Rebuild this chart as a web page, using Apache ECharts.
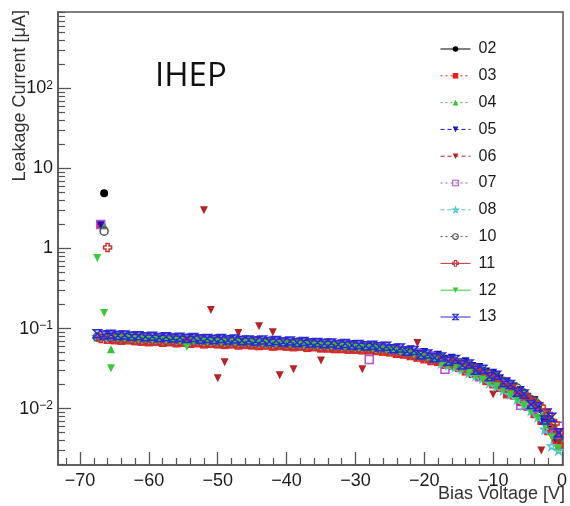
<!DOCTYPE html>
<html><head><meta charset="utf-8">
<script src="https://cdn.jsdelivr.net/npm/echarts@6/dist/echarts.min.js"></script>
<style>html,body{margin:0;padding:0;background:#fff}#c{width:570px;height:506px}</style>
</head><body><div id="c"></div>
<script>
// ---------------- data ----------------
const seriesNames = ['02','03','04','05','06','07','08','10','11','12','13'];

// voltage grids (V)
const voltsA = [-67,-66,-65,-64,-63,-62,-61,-60,-59,-58,
  -57,-56,-55,-54,-53,-52,-51,-50,-49,-48,
  -47,-46,-45,-44,-43,-42,-41,-40,-39,-38,
  -37,-36,-35,-34,-33,-32,-31,-30,-29,-28,
  -27,-26,-25,-24,-23,-22,-21,-20,-19,-18,
  -17,-16,-15,-14,-13,-12,-11,-10,-9,-8,
  -7,-6,-5,-4,-3,-2,-1,-0.4];
const voltsB = [-67.5,-66.5,-65.5,-64.5,-63.5,-62.5,-61.5,-60.5,-59.5,-58.5,
  -57.5,-56.5,-55.5,-54.5,-53.5,-52.5,-51.5,-50.5,-49.5,-48.5,
  -47.5,-46.5,-45.5,-44.5,-43.5,-42.5,-41.5,-40.5,-39.5,-38.5,
  -37.5,-36.5,-35.5,-34.5,-33.5,-32.5,-31.5,-30.5,-29.5,-28.5,
  -27.5,-26.5,-25.5,-24.5,-23.5,-22.5,-21.5,-20.5,-19.5,-18.5,
  -17.5,-16.5,-15.5,-14.5,-13.5,-12.5,-11.5,-10.5,-9.5,-8.5,
  -7.5,-6.5,-5.5,-4.5,-3.5,-2.5,-1.5,-0.5];

// leakage currents (uA)
const i02 = [null,4.9,.078,.077,.077,.076,.075,.075,.074,.073,
  .073,.072,.072,.071,.071,.070,.070,.070,.069,.069,
  .068,.068,.067,.067,.067,.066,.066,.065,.065,.065,
  .064,.064,.063,.062,.062,.061,.061,.060,.059,.059,
  .058,.057,.056,.055,.053,.051,.049,.047,.045,.043,
  .041,.039,.037,.035,.032,.030,.027,.025,.023,.020,
  .018,.0158,.0138,.0118,.0098,.0078,.0058,.0043];
const i03 = [2.0,.072,.071,.070,.071,.069,.068,.067,.068,.066,
  .067,.065,.066,.064,.065,.063,.064,.063,.062,.063,
  .061,.062,.061,.060,.061,.059,.060,.059,.058,.059,
  .057,.058,.056,.056,.055,.055,.054,.054,.053,.053,
  .052,.051,.050,.048,.047,.045,.043,.041,.039,.038,
  .035,.034,.032,.029,.027,.025,.022,.020,.018,.015,
  .0145,.0120,.0105,.0085,.0070,.0052,.0040,.0034];
const i04 = [.080,1.95,.055,.078,.076,.077,.075,.074,.075,.073,
  .074,.072,.071,.072,.070,.071,.069,.070,.068,.069,
  .068,.067,.068,.066,.067,.065,.066,.065,.064,.065,
  .063,.064,.062,.063,.061,.062,.060,.061,.059,.058,
  .059,.056,.057,.054,.054,.050,.050,.046,.046,.042,
  .046,.041,.042,.036,.037,.031,.032,.027,.027,.022,
  .021,.0175,.0165,.0135,.0125,.0092,.0078,.0045];
const i05 = [1.95,.085,.082,.084,.081,.082,.079,.080,.078,.079,
  .077,.078,.076,.077,.075,.076,.074,.075,.073,.074,
  .072,.073,.071,.072,.070,.071,.069,.070,.068,.069,
  .067,.068,.066,.067,.064,.065,.063,.064,.061,.062,
  .060,.061,.057,.058,.054,.055,.050,.051,.046,.047,
  .042,.043,.038,.039,.034,.033,.029,.028,.024,.022,
  .019,.0170,.0140,.0128,.0070,.0090,.0042,.0050];
const i06 = [.077,.076,.075,.075,.074,.074,.073,.072,.072,.071,
  .071,.070,.070,.069,.069,3.0,.17,.024,.038,.067,
  .088,.066,.066,.107,.065,.090,.026,.064,.031,.063,
  .062,.062,.040,.060,.060,.059,.059,.058,.031,.057,
  .056,.055,.054,.052,.050,.048,.066,.045,.043,.041,
  .039,.037,.035,.033,.030,.028,.025,.015,.020,.018,
  .016,.0143,.0124,.0104,.0030,.0065,.0048,.0038];
const i07 = [2.0,.080,.079,.078,.079,.077,.076,.076,.075,.075,
  .074,.074,.073,.073,.072,.072,.071,.071,.070,.070,
  .069,.069,.068,.068,.068,.067,.067,.066,.066,.065,
  .065,.064,.064,.063,.062,.062,.061,.060,.060,.041,
  .058,.057,.055,.054,.052,.050,.048,.046,.044,.042,
  .031,.038,.036,.033,.031,.025,.026,.023,.021,.019,
  .016,.0110,.0128,.0100,.0088,.0055,.0048,.0060];
const i08 = [.079,.078,.078,.077,.076,.076,.075,.074,.074,.073,
  .072,.072,.071,.071,.070,.070,.069,.069,.069,.068,
  .068,.067,.067,.066,.066,.066,.065,.065,.064,.064,
  .063,.063,.062,.062,.061,.060,.060,.059,.058,.058,
  .057,.056,.055,.053,.052,.050,.048,.046,.044,.042,
  .037,.035,.033,.031,.028,.026,.024,.021,.019,.017,
  .015,.0130,.0112,.0094,.0078,.0055,.0034,.0030];
const i10 = [.078,1.65,.077,.077,.076,.075,.075,.074,.073,.073,
  .072,.072,.071,.070,.070,.070,.069,.069,.068,.068,
  .067,.067,.067,.066,.066,.065,.065,.064,.064,.064,
  .063,.063,.062,.061,.061,.060,.060,.059,.058,.058,
  .057,.056,.055,.054,.052,.050,.048,.046,.044,.042,
  .042,.040,.038,.036,.034,.032,.029,.027,.025,.022,
  .020,.0180,.0155,.0130,.0112,.0086,.0062,.0044];
const i11 = [.075,1.03,.074,.073,.073,.072,.071,.071,.070,.069,
  .070,.068,.068,.067,.068,.066,.066,.066,.065,.065,
  .064,.065,.064,.063,.063,.062,.063,.062,.061,.061,
  .060,.060,.059,.058,.059,.057,.057,.056,.055,.056,
  .054,.054,.052,.051,.049,.048,.046,.044,.042,.041,
  .038,.037,.035,.032,.030,.028,.025,.023,.020,.018,
  .0175,.0150,.0135,.0120,.0105,.0085,.0065,.0050];
const i12 = [.76,.156,.032,.075,.075,.074,.073,.073,.072,.072,
  .071,.071,.070,.059,.069,.069,.068,.068,.067,.067,
  .067,.066,.066,.065,.065,.064,.064,.064,.063,.063,
  .062,.062,.061,.061,.060,.059,.059,.058,.057,.057,
  .056,.055,.054,.053,.051,.049,.047,.045,.043,.041,
  .036,.034,.033,.031,.028,.025,.023,.021,.019,.017,
  .015,.0128,.0110,.0092,.0076,.0060,.0044,.0032];
const i13 = [.086,.083,.085,.082,.083,.080,.081,.079,.080,.077,
  .079,.076,.078,.075,.077,.074,.075,.073,.075,.072,
  .074,.071,.072,.070,.072,.069,.071,.068,.070,.067,
  .069,.066,.067,.065,.066,.063,.065,.062,.063,.061,
  .062,.059,.060,.056,.057,.052,.053,.047,.048,.043,
  .044,.039,.041,.035,.036,.030,.031,.025,.026,.021,
  .020,.0160,.0152,.0112,.0105,.0072,.0078,.0050];

// axis ticks
const xMajorTicks = [-70,-60,-50,-40,-30,-20,-10,0];
const xMinorTicks = [-72,-68,-66,-64,-62,-58,-56,-54,-52,-48,-46,-44,-42,-38,-36,-34,-32,-28,-26,-24,-22,-18,-16,-14,-12,-8,-6,-4,-2];
const yMajorTicks = [0.01,0.1,1,10,100];
const yMinorTicks = [0.002,0.003,0.004,0.005,0.006,0.007,0.008,0.009,
  0.02,0.03,0.04,0.05,0.06,0.07,0.08,0.09,
  0.2,0.3,0.4,0.5,0.6,0.7,0.8,0.9,
  2,3,4,5,6,7,8,9,
  20,30,40,50,60,70,80,90,
  200,300,400,500,600,700,800,900];

// ---------------- styles ----------------
const DOWN = 'path://M0,0L10,0L5,9Z';
const CROSS = 'path://M3,0L7,0L7,3L10,3L10,7L7,7L7,10L3,10L3,7L0,7L0,3L3,3Z';
const STAR = 'path://M5,0L6.2,3.6L10,3.6L6.9,5.8L8.1,9.5L5,7.2L1.9,9.5L3.1,5.8L0,3.6L3.8,3.6Z';
const HOURGLASS = 'path://M0,0L10,0L5,5L10,10L0,10L5,5Z';
const DOT = [2,3], DASH = [4,3];
const cfg = {
  '02': {x: voltsB, y: i02, sym: 'circle', color: '#000000', open: false, dash: 'solid'},
  '03': {x: voltsA, y: i03, sym: 'rect', color: '#e52420', open: false, dash: DOT},
  '04': {x: voltsB, y: i04, sym: 'triangle', color: '#36c236', open: false, dash: DOT},
  '05': {x: voltsA, y: i05, sym: DOWN, color: '#1414b8', open: false, dash: DASH},
  '06': {x: voltsA, y: i06, sym: DOWN, color: '#b32525', open: false, dash: DASH},
  '07': {x: voltsA, y: i07, sym: 'rect', color: '#b450d2', open: true, dash: DOT},
  '08': {x: voltsB, y: i08, sym: STAR, color: '#4cc6cc', open: true, dash: DASH},
  '10': {x: voltsB, y: i10, sym: 'circle', color: '#505050', open: true, dash: DOT},
  '11': {x: voltsA, y: i11, sym: CROSS, color: '#c83434', open: true, dash: 'solid'},
  '12': {x: voltsB, y: i12, sym: DOWN, color: '#3cca3c', open: false, dash: 'solid'},
  '13': {x: voltsB, y: i13, sym: HOURGLASS, color: '#2a2ad0', open: true, dash: 'solid'}
};

const FONT = 'Liberation Sans, Arial, Helvetica, sans-serif';

const series = seriesNames.map(n => {
  const c = cfg[n];
  return {
    type: 'line', name: n,
    data: c.x.map((v, k) => [v, (c.y[k] == null ? '-' : c.y[k])]),
    xAxisIndex: 0, yAxisIndex: 0,
    symbol: c.sym, symbolSize: 8, showSymbol: true, showAllSymbol: true,
    lineStyle: {opacity: 0, width: 0},
    itemStyle: c.open
      ? {color: 'rgba(255,255,255,0)', borderColor: c.color, borderWidth: 1.5}
      : {color: c.color, borderWidth: 0},
    animation: false, silent: true, emphasis: {disabled: true}
  };
});

const legendData = seriesNames.map(n => ({
  name: n,
  lineStyle: {color: cfg[n].color, width: 1, type: cfg[n].dash, opacity: 1},
  itemStyle: cfg[n].open ? {borderWidth: 1.1} : {}
}));

function yLabel(v) {
  const e = Math.round(Math.log10(v));
  if (e === 0) return '{b|1}';
  if (e === 1) return '{b|10}';
  const s = e < 0 ? '\u2212' + (-e) : String(e);
  return '{b|10}{s|' + s + '}';
}

const option = {
  backgroundColor: '#ffffff',
  animation: false,
  grid: {left: 58, right: 4, top: 12, bottom: 41, show: true, borderColor: '#555', borderWidth: 1.5, backgroundColor: 'transparent'},
  xAxis: [
    {type: 'value', min: -73.2, max: 0.15, position: 'bottom',
     axisLine: {show: true, onZero: false, lineStyle: {color: '#555', width: 1.5}},
     axisTick: {show: true, inside: true, length: 13, customValues: xMajorTicks, lineStyle: {color: '#555', width: 1.3}},
     axisLabel: {show: true, customValues: xMajorTicks, margin: 7, color: '#1a1a1a', fontSize: 18, fontFamily: FONT,
       formatter: v => (v < 0 ? '\u2212' + (-v) : String(v))},
     splitLine: {show: false}},
    {type: 'value', min: -73.2, max: 0.15, position: 'bottom',
     axisLine: {show: false, onZero: false},
     axisTick: {show: true, inside: true, length: 7, customValues: xMinorTicks, lineStyle: {color: '#555', width: 1.2}},
     axisLabel: {show: false}, splitLine: {show: false}}
  ],
  yAxis: [
    {type: 'log', logBase: 10, min: 0.00197, max: 904, position: 'left',
     axisLine: {show: true, onZero: false, lineStyle: {color: '#555', width: 1.5}},
     axisTick: {show: true, inside: true, length: 13, customValues: yMajorTicks, lineStyle: {color: '#555', width: 1.3}},
     axisLabel: {show: true, customValues: yMajorTicks, margin: 5, formatter: yLabel,
       rich: {b: {fontSize: 18, fontFamily: FONT, color: '#1a1a1a'},
              s: {fontSize: 12, fontFamily: FONT, color: '#1a1a1a', verticalAlign: 'top'}}},
     splitLine: {show: false}},
    {type: 'log', logBase: 10, min: 0.00197, max: 904, position: 'left',
     axisLine: {show: false, onZero: false},
     axisTick: {show: true, inside: true, length: 7, customValues: yMinorTicks, lineStyle: {color: '#555', width: 1.2}},
     axisLabel: {show: false}, splitLine: {show: false}}
  ],
  legend: {
    orient: 'vertical', left: 440, top: 41, padding: 0,
    itemWidth: 30, itemHeight: 7, itemGap: 10.8,
    data: legendData,
    textStyle: {fontSize: 16, lineHeight: 16, fontFamily: FONT, color: '#1a1a1a', padding: [0, 0, 0, 3]},
    selectedMode: false
  },
  graphic: [
    {type: 'text', x: 20, y: 10, rotation: Math.PI / 2,
     style: {text: 'Leakage Current [\u03bcA]', fontSize: 18, fontFamily: FONT, fill: '#333', align: 'right', verticalAlign: 'middle'}},
    {type: 'text', x: 565, y: 494,
     style: {text: 'Bias Voltage [V]', fontSize: 18, fontFamily: FONT, fill: '#333', align: 'right', verticalAlign: 'middle'}},
    {type: 'text', x: 155, y: 77,
     style: {text: 'IHEP', fontSize: 33, fontFamily: 'Open Sans, Noto Sans, sans-serif', fill: '#111', align: 'left', verticalAlign: 'middle'}}
  ],
  series: series
};

const chart = echarts.init(document.getElementById('c'), null, {renderer: 'canvas'});
chart.setOption(option);
</script>
</body></html>
